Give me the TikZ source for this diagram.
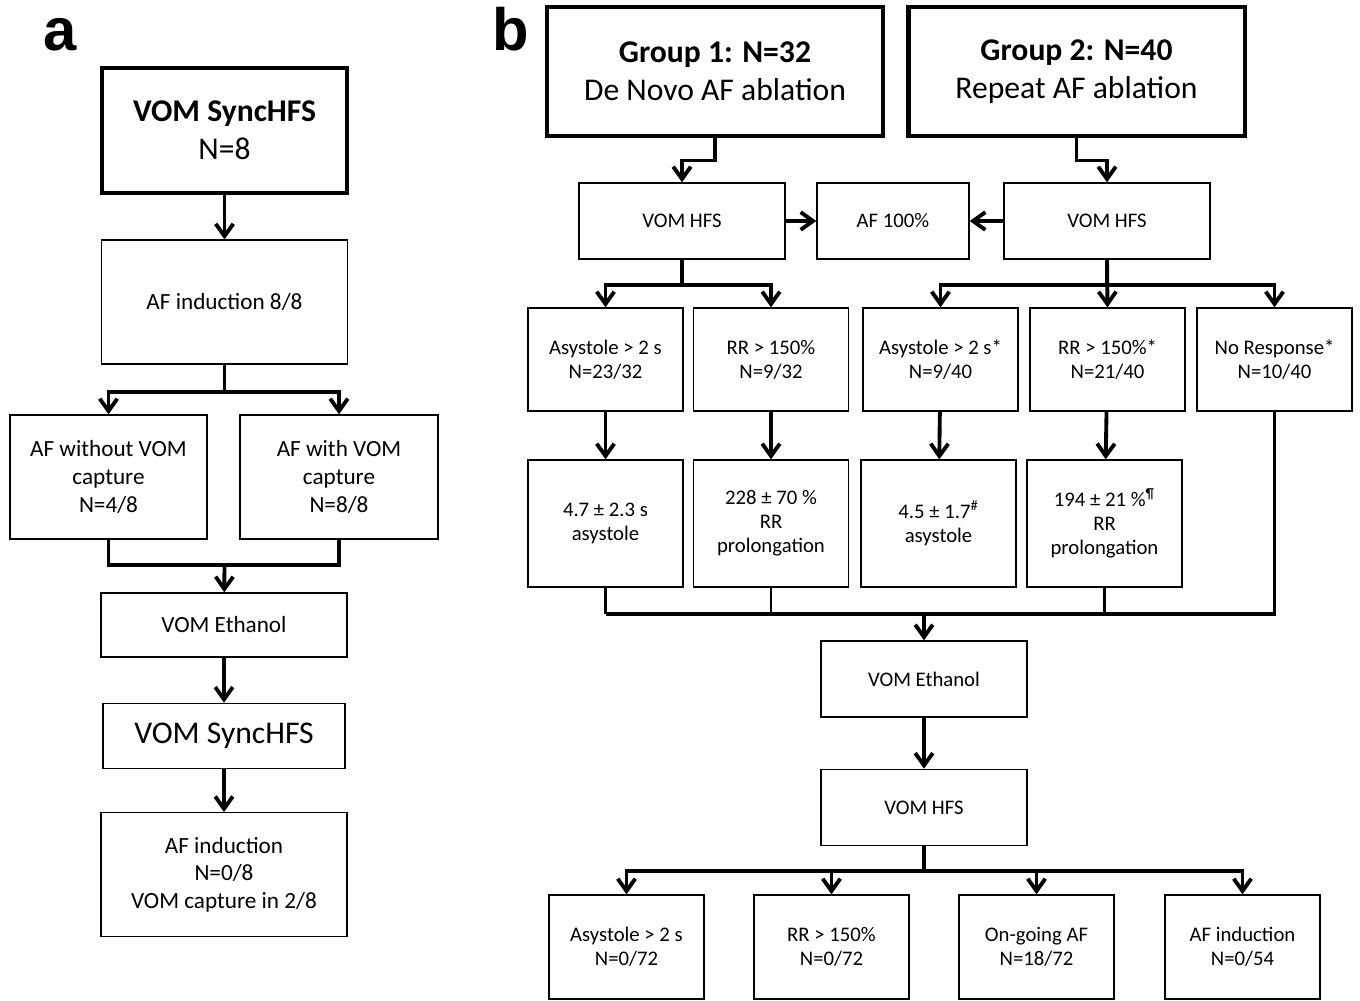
\documentclass[tikz,border=0pt]{standalone}
\usepackage{fontspec}
\setmainfont{Carlito}
\newfontfamily\panelfont{Liberation Sans}
\usetikzlibrary{arrows.meta, positioning}

\begin{document}
\begin{tikzpicture}[
        x=0.02cm, y=-0.02cm,
        node distance=0.9cm and 0.2cm,
        box/.style={draw, line width=0.8pt, align=center, inner sep=2pt, font=\fontsize{13.2}{15.9}\selectfont},
        smallbox/.style={box, minimum width=3.1cm, font=\fontsize{11.8}{13.7}\selectfont},
        midbox/.style={smallbox, minimum width=4.12cm, minimum height=1.52cm},
        headbox/.style={draw, line width=2.8pt, align=center, inner sep=2pt, font=\fontsize{18}{21.6}\selectfont},
        tag/.style={font=\panelfont\bfseries\fontsize{34}{34}\selectfont, anchor=base},
        arr/.style={-{Straight Barb[length=7pt, width=10pt]}, line width=2.2pt},
        link/.style={line width=2.2pt},
        stub/.style={line width=1.5pt}
        ]
        \useasboundingbox (0,0) rectangle (1360,1001);

        % panel a
        \node[tag] (aTag) at (60,50) {a};
        \node[headbox, minimum width=4.9cm, minimum height=2.5cm] (aTitle) at (224.5,130.5) {\textbf{VOM SyncHFS}\\N=8};
        \node[box, minimum width=4.92cm, minimum height=2.48cm, below=0.88cm of aTitle] (aInd) {AF induction 8/8};
        \node[box, minimum width=3.94cm, minimum height=2.48cm] (aNo) at (108.5,477) {AF without VOM\\capture\\N=4/8};
        \node[box, minimum width=3.96cm, minimum height=2.48cm] (aWith) at (339,477) {AF with VOM\\capture\\N=8/8};
        \node[box, minimum width=4.92cm, minimum height=1.28cm] (aEth) at (224,625) {VOM Ethanol};
        \node[box, font=\fontsize{18}{21.6}\selectfont, minimum width=4.84cm, minimum height=1.3cm, below=0.9cm of aEth] (aSync) {VOM SyncHFS};
        \node[box, minimum width=4.92cm, minimum height=2.48cm, below=0.86cm of aSync] (aFin) {AF induction\\N=0/8\\VOM capture in 2/8};
        \coordinate (aJoin) at (224.5,565);

        \draw[arr] (aTitle) -- (aInd);
        \draw[arr] (aInd.south) -- ++(0,27) -| (aNo.north);
        \draw[arr] (aInd.south) -- ++(0,27) -| (aWith.north);
        \draw[link] (aNo.south) |- (aJoin) -| (aWith.south);
        \draw[arr] (aJoin) -- (aEth);
        \draw[arr] (aEth) -- (aSync);
        \draw[arr] (aSync) -- (aFin);

        % panel b
        \node[tag] (bTag) at (511,50) {b};
        \node[headbox, minimum width=6.72cm, minimum height=2.58cm] (gOne) at (715,71.5) {\textbf{Group 1: N=32}\\De Novo AF ablation};
        \node[headbox, minimum width=6.74cm, minimum height=2.58cm] (gTwo) at (1076.5,71.5) {\textbf{Group 2: N=40}\\Repeat AF ablation};
        \node[midbox] (hfsOne) at (682,221) {VOM HFS};
        \node[midbox, minimum width=3.04cm] (afAll) at (893,221) {AF 100\%};
        \node[midbox] (hfsTwo) at (1107,221) {VOM HFS};

        \node[smallbox, minimum height=2.06cm] (asyOne) at (605.5,359.5) {Asystole > 2 s\\N=23/32};
        \node[smallbox, minimum height=2.06cm] (rrOne) at (771,359.5) {RR > 150\%\\N=9/32};
        \node[smallbox, minimum height=2.06cm] (asyTwo) at (940.5,359.5) {Asystole > 2 s*\\N=9/40};
        \node[smallbox, minimum height=2.06cm] (rrTwo) at (1107.5,359.5) {RR > 150\%*\\N=21/40};
        \node[smallbox, minimum height=2.06cm] (noResp) at (1274.5,359.5) {No Response*\\N=10/40};

        \node[smallbox, minimum height=2.54cm] (asyValOne) at (605.5,523.5) {4.7 ± 2.3 s\\asystole};
        \node[smallbox, minimum height=2.54cm] (rrValOne) at (771,523.5) {228 ± 70 \%\\RR\\prolongation};
        \node[smallbox, minimum height=2.54cm] (asyValTwo) at (938.5,523.5) {4.5 ± 1.7\textsuperscript{\#}\\asystole};
        \node[smallbox, minimum height=2.54cm] (rrValTwo) at (1104.5,523.5) {194 ± 21 \%\textsuperscript{\P}\\RR\\prolongation};

        \node[midbox] (ethB) at (924,679) {VOM Ethanol};
        \node[midbox, below=1.02cm of ethB] (hfsB) {VOM HFS};

        \node[smallbox, minimum height=2.08cm] (endAsy) at (626.5,947) {Asystole > 2 s\\N=0/72};
        \node[smallbox, minimum height=2.08cm] (endRR) at (831.5,947) {RR > 150\%\\N=0/72};
        \node[smallbox, minimum height=2.08cm] (endAF) at (1036.5,947) {On-going AF\\N=18/72};
        \node[smallbox, minimum height=2.08cm] (endInd) at (1242.5,947) {AF induction\\N=0/54};
        \coordinate (bJoin) at (924,614);

        \draw[arr] (gOne.south) -- ++(0,22) -| (hfsOne.north);
        \draw[arr] (gTwo.south) -- ++(0,22) -| (hfsTwo.north);
        \draw[arr] (hfsOne) -- (afAll);
        \draw[arr] (hfsTwo) -- (afAll);
        \draw[arr] (hfsOne.south) -- ++(0,25) -| (asyOne.north);
        \draw[arr] (hfsOne.south) -- ++(0,25) -| (rrOne.north);
        \draw[arr] (hfsTwo.south) -- ++(0,25) -| (asyTwo.north);
        \draw[arr] (hfsTwo.south) -- (rrTwo.north);
        \draw[arr] (hfsTwo.south) -- ++(0,25) -| (noResp.north);
        \draw[arr] (asyOne) -- (asyValOne);
        \draw[arr] (rrOne) -- (rrValOne);
        \draw[arr] (asyTwo) -- (asyValTwo);
        \draw[arr] (rrTwo) -- (rrValTwo);
        \draw[stub] (asyValOne.south) -- (asyValOne.south |- bJoin);
        \draw[stub] (rrValOne.south) -- (rrValOne.south |- bJoin);
        \draw[stub] (rrValTwo.south) -- (rrValTwo.south |- bJoin);
        \draw[link] (asyValOne.south |- bJoin) -| (noResp.south);
        \draw[arr] (bJoin) -- (ethB);
        \draw[arr] (ethB) -- (hfsB);
        \draw[arr] (hfsB.south) -- ++(0,25) -| (endAsy.north);
        \draw[arr] (hfsB.south) -- ++(0,25) -| (endRR.north);
        \draw[arr] (hfsB.south) -- ++(0,25) -| (endAF.north);
        \draw[arr] (hfsB.south) -- ++(0,25) -| (endInd.north);
    \end{tikzpicture}
\end{document}
